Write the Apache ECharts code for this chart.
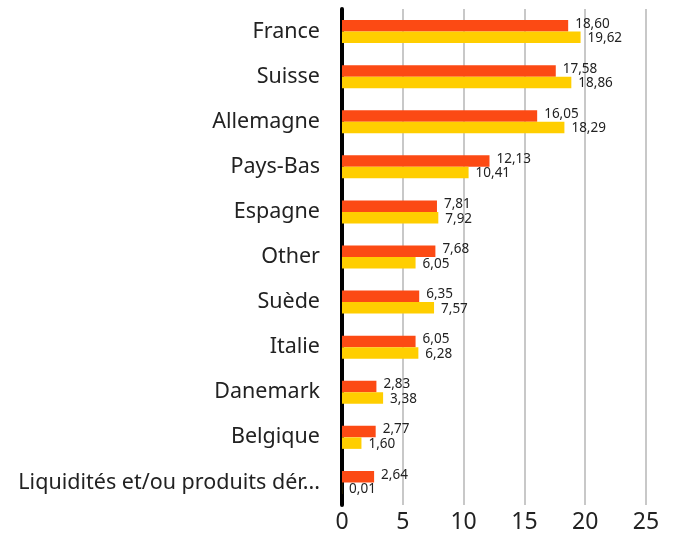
<!DOCTYPE html>
<html><head><meta charset="utf-8">
<script src="https://cdn.jsdelivr.net/npm/echarts@6/dist/echarts.min.js"></script>
<style>html,body{margin:0;padding:0;background:#fff}#c{width:673px;height:534px}</style>
</head><body><div id="c"></div>
<script>
const categories = ["France","Suisse","Allemagne","Pays-Bas","Espagne","Other","Suède","Italie","Danemark","Belgique","Liquidités et/ou produits dér..."];
const seriesA = [18.60,17.58,16.05,12.13,7.81,7.68,6.35,6.05,2.83,2.77,2.64];
const seriesB = [19.62,18.86,18.29,10.41,7.92,6.05,7.57,6.28,3.38,1.60,0.01];
const xTicks = [0,5,10,15,20,25];

const font = "'Noto Sans', sans-serif";
const fmt = p => p.value.toFixed(2).replace('.', ',');
const chart = echarts.init(document.getElementById('c'));
chart.setOption({
  animation:false,
  grid:{left:342,right:27,top:9,bottom:29,containLabel:false},
  xAxis:{type:'value',min:xTicks[0],max:xTicks[xTicks.length-1],interval:5,
    axisLine:{show:false},axisTick:{show:false},
    splitLine:{show:true,lineStyle:{color:'#c8c8c8',width:2}},
    axisLabel:{color:'#222',fontSize:23,fontFamily:font,margin:6}},
  yAxis:{type:'category',data:categories,inverse:true,
    axisLine:{show:true,lineStyle:{color:'#000',width:4}},axisTick:{show:false},
    axisLabel:{color:'#222',fontSize:21.5,fontFamily:font,margin:22,padding:[7,0,0,0]}},
  series:[
    {type:'bar',data:seriesA,barWidth:11.5,barGap:'0%',itemStyle:{color:'#FC4A14'},
     label:{show:true,position:'right',distance:7,offset:[0,-2],formatter:fmt,color:'#222',fontSize:13.5,fontFamily:font}},
    {type:'bar',data:seriesB,barWidth:11.5,barGap:'0%',itemStyle:{color:'#FFCE00'},
     label:{show:true,position:'right',distance:7,offset:[0,1],formatter:fmt,color:'#222',fontSize:13.5,fontFamily:font}}
  ]
});
</script></body></html>
